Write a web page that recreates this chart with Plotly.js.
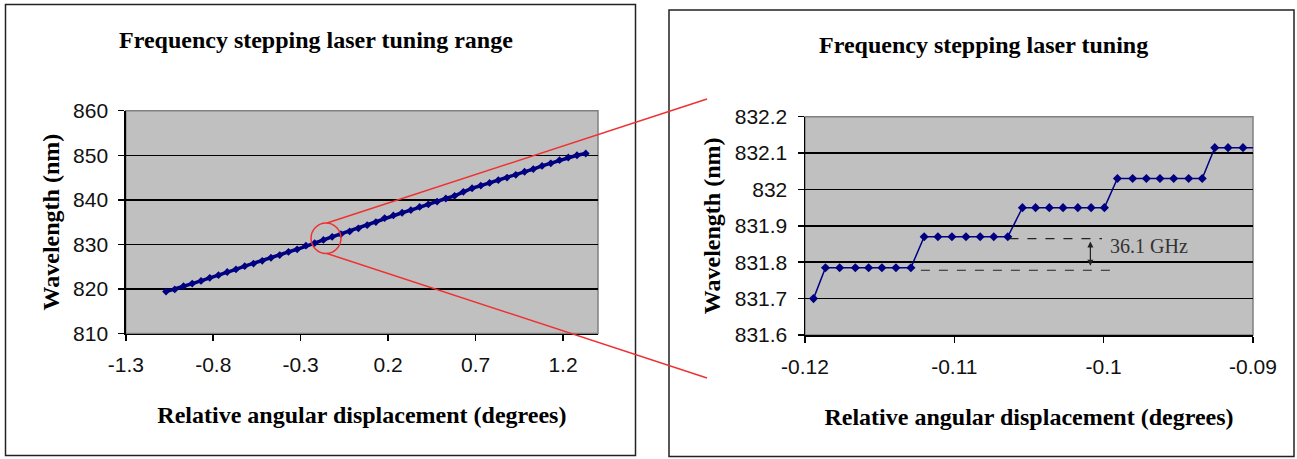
<!DOCTYPE html>
<html>
<head>
<meta charset="utf-8">
<script src="https://cdn.plot.ly/plotly-3.0.1.min.js"></script>
<style>html,body{margin:0;padding:0;background:#fff;}#chart{width:1297px;height:459px;}</style>
</head>
<body>
<div id="chart"></div>
<script>
// ---- Left chart: full tuning range ----
const rangeAngle = [-1.07,-1.02,-0.97,-0.92,-0.87,-0.82,-0.77,-0.72,-0.67,-0.62,-0.57,-0.52,-0.47,-0.42,-0.37,-0.32,-0.27,-0.22,-0.17,-0.12,-0.07,-0.02,0.03,0.08,0.13,0.18,0.23,0.28,0.33,0.38,0.43,0.48,0.53,0.58,0.63,0.68,0.73,0.78,0.83,0.88,0.93,0.98,1.03,1.08,1.13,1.18,1.23,1.28,1.33];
const rangeWavelength = [819.4,819.9,820.6,821.2,821.8,822.5,823.1,823.8,824.4,825.1,825.7,826.3,827.0,827.6,828.3,828.9,829.7,830.3,831.0,831.7,832.3,832.9,833.6,834.3,835.0,835.9,836.5,837.1,837.7,838.4,839.0,839.6,840.3,840.9,841.8,842.6,843.2,843.8,844.4,845.0,845.6,846.3,846.9,847.6,848.2,848.9,849.5,850.0,850.4];

// ---- Right chart: zoomed steps ----
const stepAngle = [-0.11943,-0.11863,-0.11768,-0.11663,-0.11574,-0.11485,-0.11391,-0.11291,-0.11202,-0.11110,-0.11016,-0.10922,-0.10827,-0.10736,-0.10642,-0.10544,-0.10456,-0.10364,-0.10272,-0.10173,-0.10084,-0.09995,-0.09908,-0.09806,-0.09714,-0.09623,-0.09531,-0.09431,-0.09340,-0.09256,-0.09167,-0.09067,-0.08970];
const stepWavelength = [831.700,831.785,831.785,831.785,831.785,831.785,831.785,831.785,831.870,831.870,831.870,831.870,831.870,831.870,831.870,831.950,831.950,831.950,831.950,831.950,831.950,831.950,832.030,832.030,832.030,832.030,832.030,832.030,832.030,832.115,832.115,832.115,832.115];

const leftTickVals = [-1.3,-0.8,-0.3,0.2,0.7,1.2];
const leftTickText = ['-1.3','-0.8','-0.3','0.2','0.7','1.2'];
const leftYTicks = [810,820,830,840,850,860];
const rightTickVals = [-0.12,-0.11,-0.1,-0.09];
const rightTickText = ['-0.12','-0.11','-0.1','-0.09'];
const rightYTicks = [831.6,831.7,831.8,831.9,832,832.1,832.2];
const rightYText = ['831.6','831.7','831.8','831.9','832','832.1','832.2'];

// step annotation (upper level, lower level, marker)
const stepUpper = {x0:-0.10631, x1:-0.10011, y:831.865};
const stepLower = {x0:-0.11224, x1:-0.09903, y:831.778};
const stepArrow = {x:-0.10089, yTop:831.857, yBot:831.786};
const stepLabel = {x:-0.09969, y:831.845, text:'36.1 GHz'};

const W = 1297, H = 459;
const px = v => v / W;
const py = v => 1 - v / H;

const serif = 'Liberation Serif, Times New Roman, serif';
const sans = 'Liberation Sans, Arial, sans-serif';
const navy = '#000080';
const titleFont = {family:serif, size:24, color:'#000'};

const traces = [
  {x: rangeAngle, y: rangeWavelength, xaxis:'x', yaxis:'y', type:'scatter', mode:'lines+markers',
   line:{color:navy, width:3.5}, marker:{symbol:'diamond', size:6, color:navy}, hoverinfo:'skip'},
  {x: stepAngle, y: stepWavelength, xaxis:'x2', yaxis:'y2', type:'scatter', mode:'lines+markers',
   line:{color:navy, width:1.5}, marker:{symbol:'diamond', size:7, color:navy}, hoverinfo:'skip'}
];

const axisCommon = {
  showline:true, linecolor:'#000', linewidth:1.5, ticks:'outside', ticklen:6, tickwidth:1.5, tickcolor:'#000',
  tickfont:{family:sans, size:21, color:'#111'}, zeroline:false, automargin:false, fixedrange:true
};

const layout = {
  width:W, height:H, margin:{l:0,r:0,t:0,b:0}, paper_bgcolor:'#fff', plot_bgcolor:'#c0c0c0',
  showlegend:false,
  xaxis: Object.assign({}, axisCommon, {domain:[px(125.8), px(598)], anchor:'y', range:[-1.3,1.4],
    tickmode:'array', tickvals:leftTickVals, ticktext:leftTickText, showgrid:false, ticklabelstandoff:6,
    title:{text:'<b>Relative angular displacement (degrees)</b>', font:titleFont, standoff:31}}),
  yaxis: Object.assign({}, axisCommon, {domain:[py(333.5), py(110.7)], anchor:'x', range:[810,860],
    tickmode:'array', tickvals:leftYTicks, ticktext:leftYTicks.map(String), showgrid:true, gridcolor:'#000', gridwidth:1.5, ticklabelstandoff:6,
    title:{text:'<b>Wavelength (nm)</b>', font:titleFont, standoff:6}}),
  xaxis2: Object.assign({}, axisCommon, {domain:[px(805), px(1253)], anchor:'y2', range:[-0.12,-0.09],
    tickmode:'array', tickvals:rightTickVals, ticktext:rightTickText, showgrid:false, ticklabelstandoff:6,
    title:{text:'<b>Relative angular displacement (degrees)</b>', font:titleFont, standoff:31}}),
  yaxis2: Object.assign({}, axisCommon, {domain:[py(335), py(116.7)], anchor:'x2', range:[831.6,832.2],
    tickmode:'array', tickvals:rightYTicks, ticktext:rightYText, showgrid:true, gridcolor:'#000', gridwidth:1.5, ticklabelstandoff:6,
    title:{text:'<b>Wavelength (nm)</b>', font:titleFont, standoff:7}}),
  shapes: [
    // outer frames
    {type:'rect', xref:'paper', yref:'paper', x0:px(5.5), x1:px(635.5), y0:py(455.5), y1:py(4.5), line:{color:'#222', width:1.5}},
    {type:'rect', xref:'paper', yref:'paper', x0:px(669), x1:px(1294), y0:py(456.5), y1:py(10), line:{color:'#222', width:1.5}},
    // gray plot-area borders
    {type:'rect', xref:'x domain', yref:'y domain', x0:0, x1:1, y0:0, y1:1, line:{color:'#808080', width:1.5}, layer:'below'},
    {type:'rect', xref:'x2 domain', yref:'y2 domain', x0:0, x1:1, y0:0, y1:1, line:{color:'#808080', width:1.5}, layer:'below'},
    // zoom circle and connecting lines
    {type:'circle', xref:'paper', yref:'paper', x0:px(311), x1:px(341), y0:py(253.5), y1:py(223), line:{color:'#f03030', width:1.5}},
    {type:'line', xref:'paper', yref:'paper', x0:px(327), y0:py(223), x1:px(707), y1:py(99), line:{color:'#f03030', width:1.5}},
    {type:'line', xref:'paper', yref:'paper', x0:px(327), y0:py(253.5), x1:px(707), y1:py(378), line:{color:'#f03030', width:1.5}},
    // step-size dashed guides
    {type:'line', xref:'x2', yref:'y2', x0:stepUpper.x0, x1:stepUpper.x1, y0:stepUpper.y, y1:stepUpper.y, line:{color:'#222', width:1.2, dash:'dash'}},
    {type:'line', xref:'x2', yref:'y2', x0:stepLower.x0, x1:stepLower.x1, y0:stepLower.y, y1:stepLower.y, line:{color:'#222', width:1.2, dash:'dash'}}
  ],
  annotations: [
    {xref:'paper', yref:'paper', x:px(316), y:py(40), xanchor:'center', yanchor:'middle', showarrow:false,
     text:'<b>Frequency stepping laser tuning range</b>', font:titleFont},
    {xref:'paper', yref:'paper', x:px(983), y:py(45), xanchor:'center', yanchor:'middle', showarrow:false,
     text:'<b>Frequency stepping laser tuning</b>', font:titleFont},
    {xref:'x2', yref:'y2', x:stepArrow.x, y:stepArrow.yTop, axref:'x2', ayref:'y2', ax:stepArrow.x, ay:stepArrow.yBot,
     text:'', showarrow:true, arrowside:'end+start', arrowhead:2, arrowsize:1, arrowwidth:1.2, arrowcolor:'#222'},
    {xref:'x2', yref:'y2', x:stepLabel.x, y:stepLabel.y, xanchor:'left', yanchor:'middle', showarrow:false,
     text:stepLabel.text, font:{family:serif, size:20, color:'#333'}}
  ]
};

Plotly.newPlot('chart', traces, layout, {displayModeBar:false, staticPlot:true});
</script>
</body>
</html>
